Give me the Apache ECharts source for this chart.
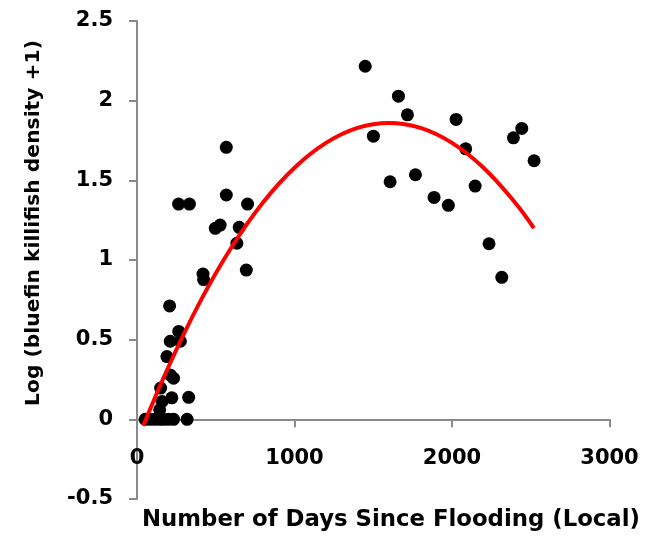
<!DOCTYPE html>
<html>
<head>
<meta charset="utf-8">
<script src="https://cdn.jsdelivr.net/npm/echarts@6/dist/echarts.min.js"></script>
<style>
  html, body { margin: 0; padding: 0; background: #fff; }
  #chart { width: 648px; height: 537px; }
</style>
</head>
<body>
<div id="chart"></div>
<script>
// Survey observations: days since local flooding vs. log(density + 1)
const daysSinceFlooding = [
  52, 85, 116, 145, 169, 200, 232, 318,
  144, 159, 150, 221, 328, 211, 232, 190, 211, 275, 265, 207,
  419, 423, 694, 634, 649, 497, 528, 264, 333, 567, 702, 567,
  1449, 1660, 1717, 1501, 2026, 2443, 2390, 2087, 2521,
  1607, 1768, 2147, 1886, 1977, 2235, 2316
];
const logDensity = [
  0, 0, 0, 0, 0, 0, 0, 0,
  0.06, 0.112, 0.196, 0.135, 0.138, 0.279, 0.258, 0.394, 0.49, 0.49, 0.552, 0.712,
  0.912, 0.877, 0.937, 1.105, 1.205, 1.199, 1.219, 1.351, 1.351, 1.408, 1.351, 1.707,
  2.216, 2.028, 1.911, 1.777, 1.882, 1.826, 1.767, 1.698, 1.623,
  1.491, 1.535, 1.464, 1.393, 1.343, 1.102, 0.891
];

// Polynomial trend line, sampled along its course
const trendDays = [40, 200, 400, 600, 800, 1000, 1200, 1400, 1600, 1800, 2000, 2200, 2400, 2520];
const trendValues = [-0.04, 0.33, 0.737, 1.08, 1.361, 1.579, 1.735, 1.829, 1.86, 1.829, 1.735, 1.579, 1.361, 1.2];

const xTitle = 'Number of Days Since Flooding (Local)';
const yTitle = 'Log (bluefin killifish density +1)';

const FONT = '"DejaVu Sans", sans-serif';
const AXIS_GREY = '#8a8a8a';

const X_MIN = 0, X_MAX = 3000, X_STEP = 1000;
const Y_MIN = -0.5, Y_MAX = 2.5, Y_STEP = 0.5;

const GRID = { left: 137, right: 38.5, top: 21, bottom: 38 };
const plotHeight = 537 - GRID.top - GRID.bottom;
// the value axis crosses the vertical axis at y = 0
const xAxisShift = -plotHeight * (0 - Y_MIN) / (Y_MAX - Y_MIN);

const points = daysSinceFlooding.map((d, i) => [d, logDensity[i]]);
const trend = trendDays.map((d, i) => [d, trendValues[i]]);

const chart = echarts.init(document.getElementById('chart'));
chart.setOption({
  animation: false,
  backgroundColor: '#ffffff',
  grid: Object.assign({ containLabel: false, outerBoundsMode: 'none' }, GRID),
  xAxis: {
    type: 'value',
    min: X_MIN, max: X_MAX, interval: X_STEP,
    offset: xAxisShift,
    splitLine: { show: false },
    axisLine: { onZero: false, lineStyle: { color: AXIS_GREY, width: 2 } },
    axisTick: { inside: false, length: 8, lineStyle: { color: AXIS_GREY, width: 2 } },
    axisLabel: {
      color: '#000', fontFamily: FONT, fontWeight: 'bold', fontSize: 21, margin: 29,
      formatter: v => String(v)
    }
  },
  yAxis: {
    type: 'value',
    min: Y_MIN, max: Y_MAX, interval: Y_STEP,
    splitLine: { show: false },
    axisLine: { onZero: false, lineStyle: { color: AXIS_GREY, width: 2 } },
    axisTick: { inside: false, length: 8, lineStyle: { color: AXIS_GREY, width: 2 } },
    axisLabel: {
      color: '#000', fontFamily: FONT, fontWeight: 'bold', fontSize: 21, margin: 24,
      formatter: v => String(v)
    }
  },
  series: [
    {
      type: 'scatter',
      data: points,
      symbol: 'circle',
      symbolSize: 13,
      itemStyle: { color: '#000000', opacity: 1 },
      z: 2
    },
    {
      type: 'line',
      data: trend,
      smooth: 0.4,
      symbol: 'none',
      lineStyle: { color: '#ff0000', width: 4 },
      z: 3
    }
  ],
  graphic: [
    {
      type: 'text',
      x: 391, y: 520,
      style: {
        text: xTitle, font: 'bold 22.8px ' + FONT, fill: '#000',
        textAlign: 'center', textVerticalAlign: 'middle'
      }
    },
    {
      type: 'text',
      x: 34, y: 223,
      rotation: Math.PI / 2,
      style: {
        text: yTitle, font: 'bold 20.3px ' + FONT, fill: '#000',
        textAlign: 'center', textVerticalAlign: 'middle'
      }
    }
  ]
});
</script>
</body>
</html>
